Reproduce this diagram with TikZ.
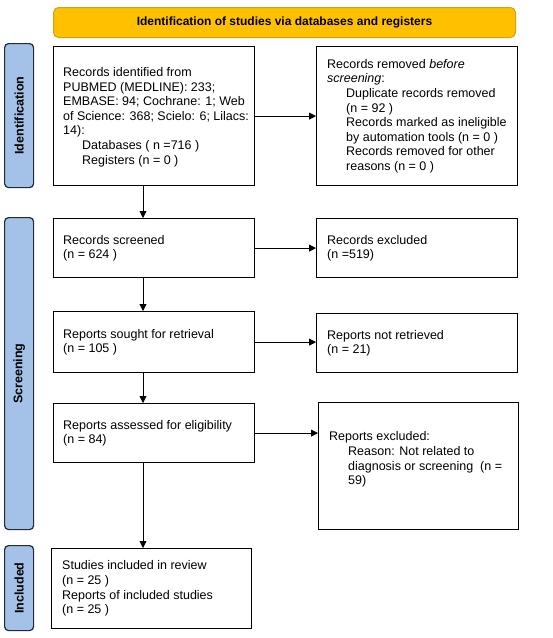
\documentclass[tikz,border=0pt]{standalone}
\usepackage{fontspec}
\setmainfont{Liberation Sans}
\usetikzlibrary{arrows.meta,calc}
\definecolor{barfill}{HTML}{FFC000}
\definecolor{barline}{HTML}{D4A017}
\definecolor{sidefill}{HTML}{A4C2E8}
\definecolor{sideline}{HTML}{1F2A3A}
\tikzset{
  flowbox/.style={draw=black, line width=1.2pt, anchor=north west, inner sep=0pt},
  flowtext/.style={align=left, anchor=west, inner sep=0pt, font=\fontsize{12.5}{14.6}\selectfont},
  sidebox/.style={draw=sideline, fill=sidefill, line width=1.2pt, rounded corners=4pt, anchor=north west,
    minimum width=29pt, inner sep=0pt},
  sidetext/.style={rotate=90, font=\bfseries\fontsize{12.5}{14}\selectfont},
  flowarrow/.style={draw=black, line width=0.8pt, -{Triangle[length=7pt,width=7pt]}}
}
\newcommand{\ind}{\hspace*{19pt}}
\begin{document}
\begin{tikzpicture}[x=1pt,y=-1pt]
\useasboundingbox (0,0) rectangle (553,638);
% header bar
\node[draw=barline, fill=barfill, line width=1pt, rounded corners=5pt, anchor=north west,
  minimum width=462pt, minimum height=30pt, inner sep=0pt,
  font=\bfseries\fontsize{12}{14}\selectfont] (hdr) at (53,7) {Identification of studies via databases and registers};
% side labels
\node[sidebox, minimum height=144pt] (sid) at (4,43) {};
\node[sidetext] (tid) at (sid.center) {Identification};
\node[sidebox, minimum height=312pt] (sscr) at (4,217) {};
\node[sidetext] (tscr) at (sscr.center) {Screening};
\node[sidebox, minimum height=85pt] (sinc) at (4,545) {};
\node[sidetext] (tinc) at (sinc.center) {Included};
% boxes
\node[flowbox, minimum width=201pt, minimum height=139pt] (ident) at (53,46) {};
\node[flowtext] (identt) at ($(ident.west)+(10,1)$)
  {Records identified from\\PUBMED (MEDLINE): 233;\\EMBASE: 94; Cochrane: 1; Web\\of Science: 368; Scielo: 6; Lilacs:\\14):\\\ind Databases ( n =716 )\\\ind Registers (n = 0 )};
\node[flowbox, minimum width=201pt, minimum height=139pt] (removed) at (316,46) {};
\node[flowtext] (removedt) at ($(removed.west)+(11,0)$)
  {Records removed \emph{before}\\\emph{screening}:\\\ind Duplicate records removed\\\ind (n = 92 )\\\ind Records marked as ineligible\\\ind by automation tools (n = 0 )\\\ind Records removed for other\\\ind reasons (n = 0 )};
\node[flowbox, minimum width=201pt, minimum height=59pt] (screened) at (53,218) {};
\node[flowtext] (screenedt) at ($(screened.west)+(10,0)$) {Records screened\\(n = 624 )};
\node[flowbox, minimum width=201pt, minimum height=59pt] (excluded) at (316,218) {};
\node[flowtext] (excludedt) at ($(excluded.west)+(11,0)$) {Records excluded\\(n =519)};
\node[flowbox, minimum width=201pt, minimum height=61pt] (sought) at (53,311) {};
\node[flowtext] (soughtt) at ($(sought.west)+(10,0)$) {Reports sought for retrieval\\(n = 105 )};
\node[flowbox, minimum width=201pt, minimum height=59pt] (notret) at (316,313) {};
\node[flowtext] (notrett) at ($(notret.west)+(11,0)$) {Reports not retrieved\\(n = 21)};
\node[flowbox, minimum width=201pt, minimum height=59pt] (assessed) at (53,403) {};
\node[flowtext] (assessedt) at ($(assessed.west)+(10,0)$) {Reports assessed for eligibility\\(n = 84)};
\node[flowbox, minimum width=200pt, minimum height=127pt] (repexcl) at (318,402) {};
\node[flowtext] (repexclt) at ($(repexcl.west)+(11,-6.5)$)
  {Reports excluded:\\\ind Reason: Not related to\\\ind diagnosis or screening\ \ (n =\\\ind 59)};
\node[flowbox, minimum width=200pt, minimum height=80pt] (included) at (51,548) {};
\node[flowtext] (includedt) at ($(included.west)+(11,0)$)
  {Studies included in review\\(n = 25 )\\Reports of included studies\\(n = 25 )};
% arrows
\coordinate (ax) at (143,0);
\draw[flowarrow] (ident.east) -- (removed.west);
\draw[flowarrow] (ident.south -| ax) -- (screened.north -| ax);
\draw[flowarrow] (screened.east) -- (excluded.west);
\draw[flowarrow] (screened.south -| ax) -- (sought.north -| ax);
\draw[flowarrow] (sought.east) -- (sought.east -| notret.west);
\draw[flowarrow] (sought.south -| ax) -- (assessed.north -| ax);
\draw[flowarrow] (assessed.east) -- (assessed.east -| repexcl.west);
\draw[flowarrow] (assessed.south -| ax) -- (included.north -| ax);
\end{tikzpicture}
\end{document}
